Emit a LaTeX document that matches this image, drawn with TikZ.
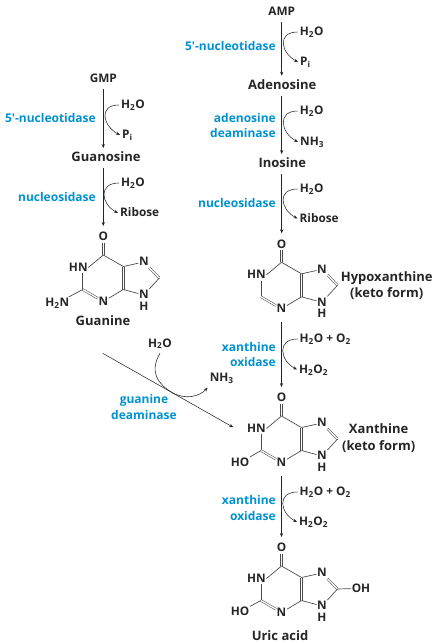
\documentclass[tikz,border=0pt]{standalone}
\usepackage{fontspec}
\setmainfont{Open Sans}
\usepackage{xcolor}
\usetikzlibrary{arrows.meta, positioning}

\definecolor{enzblue}{RGB}{0,146,207}

\tikzset{
  chem/.style={font=\fontsize{11.8}{12}\bfseries\selectfont, text=black!85, text height=7.5pt, text depth=0pt, inner xsep=2pt, inner ysep=6pt},
  metab/.style={chem, font=\fontsize{13}{14}\bfseries\selectfont},
  atom/.style={chem, inner xsep=0.5pt, inner ysep=2pt},
  enzyme/.style={font=\fontsize{12}{15.6}\bfseries\selectfont, text=enzblue, inner sep=0pt, align=right, anchor=east},
  rxn/.style={draw=black!85, line width=0.55pt, -{Stealth[length=4pt, width=3.2pt]}},
  bond/.style={draw=black!70, line width=0.7pt},
  dbond/.style={draw=black!70, line width=0.55pt, double, double distance=1.3pt}
}

\newcommand{\purine}[3]{
  \begin{scope}[shift={(#2,#3)}]
    \coordinate (#1c6) at (0,0);
    \coordinate (#1c5) at (20,11.5);
    \coordinate (#1c4) at (20,34.5);
    \coordinate (#1c2) at (-20.5,34.5);
    \coordinate (#1c8) at (56,23);
    \node[atom] (#1o) at (0,-18) {O};
    \node[atom] (#1n1) at (-25,12.5) {HN};
    \node[atom] (#1n3) at (0,46.5) {N};
    \node[atom] (#1n7) at (40.5,7) {N};
    \node[atom] (#1n9) at (40.5,40) {N};
    \node[atom] (#1h) at (40.5,51.5) {H};
    \draw[dbond] (#1c6) -- (#1o);
    \draw[bond] (#1c6) -- (#1n1.east);
    \draw[bond] (#1c2) -- (#1n1.south -| #1c2);
    \draw[dbond] (#1c2) -- (#1n3);
    \draw[bond] (#1n3) -- (#1c4);
    \draw[dbond] (#1c4) -- (#1c5);
    \draw[bond] (#1c5) -- (#1c6);
    \draw[bond] (#1c5) -- (#1n7);
    \draw[dbond] (#1n7) -- (#1c8);
    \draw[bond] (#1c8) -- (#1n9);
    \draw[bond] (#1n9) -- (#1c4);
  \end{scope}
}

\begin{document}
\begin{tikzpicture}[x=1pt, y=-1pt]

\useasboundingbox (0,0) rectangle (439,643);

% guanine branch
\node[chem] (gmp) at (103.3,79) {GMP};
\node[metab] (guanosine) at (106,158) {Guanosine};
\purine{gua}{103.3}{255}
\node[atom] (guanh) at (57.3,303) {H\textsubscript{2}N};
\draw[bond] (guac2) -- (guanh);
\node[metab] (guanine) at (103,322) {Guanine};

\node[enzyme] (nucg) at (96,118) {5′-nucleotidase};
\node[enzyme] (nsdg) at (96,197) {nucleosidase};
\node[chem] (wga) at (133,105) {H\textsubscript{2}O};
\node[chem, anchor=west] (pig) at (120,135) {P\textsubscript{i}};
\node[chem] (wgb) at (133,183) {H\textsubscript{2}O};
\node[chem, anchor=west] (rig) at (118,213) {Ribose};

\draw[rxn] (gmp.south) -- (guanosine.north -| gmp.south);
\draw[rxn, shorten >=5pt] (guanosine.south -| gmp.south) -- (guao.north);
\draw[rxn] (wga.west) .. controls +(-21,0) and +(-17,-9) .. (pig.west);
\draw[rxn] (wgb.west) .. controls +(-21,0) and +(-17,-9) .. (rig.west);

% adenine branch
\node[chem] (amp) at (281.7,12) {AMP};
\node[metab] (adenosine) at (282.3,85.7) {Adenosine};
\node[metab] (inosine) at (282.3,164) {Inosine};
\purine{hyp}{281.5}{262.3}
\node[metab] (hypname) at (386.7,277.5) {Hypoxanthine};
\node[metab] (hypketo) at (386.7,294) {(keto form)};

\node[enzyme] (nuca) at (276,45.7) {5′-nucleotidase};
\node[enzyme] (dea) at (276,125.5) {adenosine\\deaminase};
\node[enzyme] (nsda) at (276,202.7) {nucleosidase};
\node[chem] (waa) at (311.7,32) {H\textsubscript{2}O};
\node[chem, anchor=west] (pia) at (298,62) {P\textsubscript{i}};
\node[chem] (wab) at (311.7,111) {H\textsubscript{2}O};
\node[chem, anchor=west] (nha) at (298,142) {NH\textsubscript{3}};
\node[chem] (wac) at (311.7,189) {H\textsubscript{2}O};
\node[chem, anchor=west] (ria) at (297.5,218.5) {Ribose};

\draw[rxn] (amp.south) -- (adenosine.north -| amp.south);
\draw[rxn] (adenosine.south -| amp.south) -- (inosine.north -| amp.south);
\draw[rxn, shorten >=5pt] (inosine.south -| amp.south) -- (hypo.north -| amp.south);
\draw[rxn] (waa.west) .. controls +(-21,0) and +(-17,-9) .. (pia.west);
\draw[rxn] (wab.west) .. controls +(-21,0) and +(-17,-9) .. (nha.west);
\draw[rxn] (wac.west) .. controls +(-21,0) and +(-17,-9) .. (ria.west);

% xanthine
\purine{xan}{281.5}{416}
\node[atom] (xanho) at (240,462.7) {HO};
\draw[bond] (xanc2) -- (xanho);
\node[metab] (xanname) at (378.7,430) {Xanthine};
\node[metab] (xanketo) at (378.7,447) {(keto form)};

\node[enzyme] (xoa) at (276,354.5) {xanthine\\oxidase};
\node[chem, anchor=west] (wxa) at (297.5,339) {H\textsubscript{2}O + O\textsubscript{2}};
\node[chem, anchor=west] (pxa) at (297,369.5) {H\textsubscript{2}O\textsubscript{2}};
\coordinate (hypout) at (281.5,322);

\draw[rxn, shorten >=5pt] (hypout) -- (xano.north);
\draw[rxn] (wxa.west) .. controls +(-21,0) and +(-17,-9) .. (pxa.west);

% uric acid
\purine{uri}{281.5}{566}
\node[atom] (uriho) at (240,611.7) {HO};
\draw[bond] (uric2) -- (uriho);
\node[atom] (urioh) at (361,588.3) {OH};
\draw[bond] (uric8) -- (urioh);
\node[metab] (uriname) at (280,636.7) {Uric acid};

\node[enzyme] (xob) at (276,507.8) {xanthine\\oxidase};
\node[chem, anchor=west] (wxb) at (297.5,492) {H\textsubscript{2}O + O\textsubscript{2}};
\node[chem, anchor=west] (pxb) at (297,522) {H\textsubscript{2}O\textsubscript{2}};
\coordinate (xanout) at (281.5,476);

\draw[rxn, shorten >=5pt] (xanout) -- (urio.north);
\draw[rxn] (wxb.west) .. controls +(-21,0) and +(-17,-9) .. (pxb.west);

% guanine to xanthine
\coordinate (gdout) at (102.7,353.3);
\coordinate (gdin) at (233.3,427.3);
\node[enzyme, align=center, anchor=center] (gda) at (144,407) {guanine\\deaminase};
\node[chem] (wgd) at (160,343.3) {H\textsubscript{2}O};
\node[chem] (nhgd) at (221.7,377.7) {NH\textsubscript{3}};

\draw[rxn] (gdout) -- (gdin);
\draw[rxn] (wgd.south) .. controls (149,372) and (158,384) .. (172,392.5) .. controls (186,400.5) and (200,396) .. (nhgd.south west);

\end{tikzpicture}
\end{document}
